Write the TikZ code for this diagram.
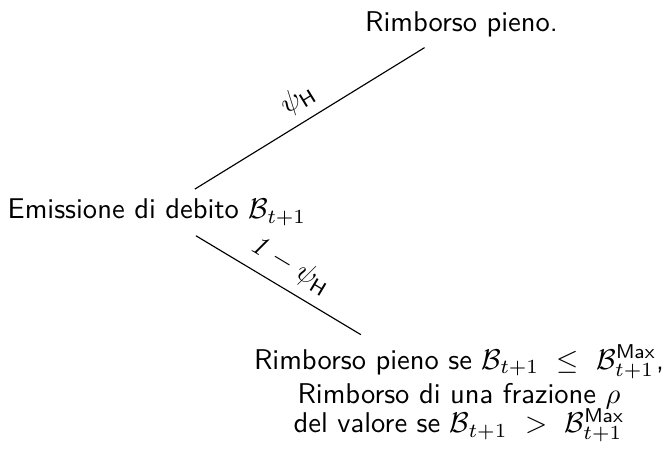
\documentclass[tikz,border=0pt]{standalone}
\usepackage{amsmath,amssymb}
\begin{document}
\begin{tikzpicture}[x=0.35pt,y=-0.35pt,
  txt/.style={font=\sffamily\fontsize{10}{12}\selectfont},
  branch/.style={line width=0.4pt},
  lab/.style={sloped, above, midway, font=\sffamily\fontsize{10}{12}\selectfont}]
\useasboundingbox (0,0) rectangle (669,452);
\node[txt, anchor=base] (root) at (157,219) {Emissione di debito $\mathcal{B}_{t+1}$};
\node[txt, anchor=base] (up) at (461.5,32) {Rimborso pieno.};
\node[txt, align=center, anchor=center, font=\sffamily\fontsize{10}{12.2}\selectfont] (down) at (459,393.5)
  {Rimborso pieno se $\mathcal{B}_{t+1}\ \leq\ \mathcal{B}^{\mathsf{Max}}_{t+1}$,\\
   Rimborso di una frazione $\rho$\\[-2.1pt]
   del valore se $\mathcal{B}_{t+1}\ >\ \mathcal{B}^{\mathsf{Max}}_{t+1}$};
\draw[branch] (root) -- node[lab] {$\psi_{\mathsf{H}}$} (up);
\draw[branch] (root) -- node[lab] {$\mathit{1}-\psi_{\mathsf{H}}$} (down);
\end{tikzpicture}
\end{document}
